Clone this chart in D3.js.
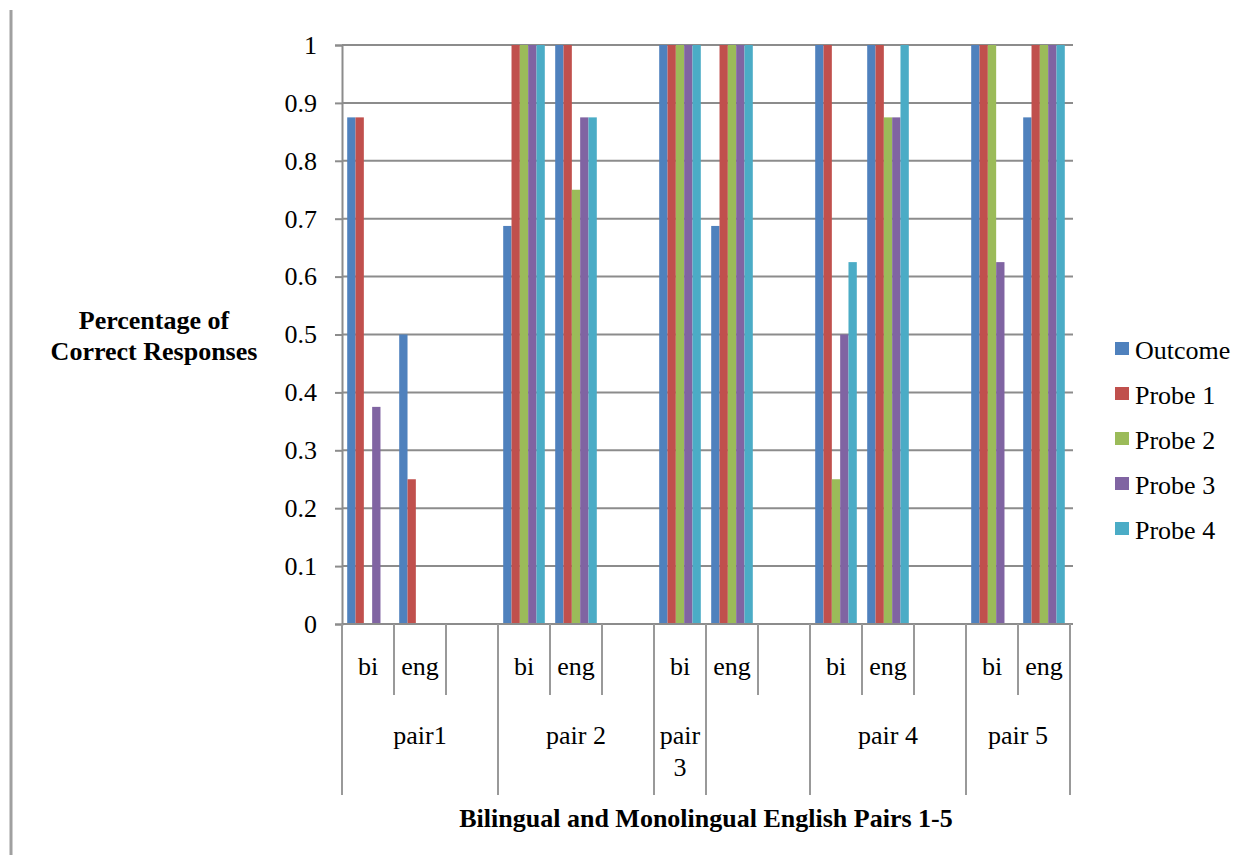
<!DOCTYPE html>
<html>
<head>
<meta charset="utf-8">
<script src="https://cdn.jsdelivr.net/npm/d3@7"></script>
<style>
  body { margin: 0; background: #fff; }
  text { font-family: "Liberation Serif", "Times New Roman", serif; fill: #000; }
</style>
</head>
<body>
<svg id="chart" width="1248" height="855"></svg>
<script>
// Category slots (inner level) and their pair groups (outer level)
const slotLabels = ["bi", "eng", "", "bi", "eng", "", "bi", "eng", "", "bi", "eng", "", "bi", "eng"];
const groupLabels = ["pair1", "pair 2", "pair 3", "", "pair 4", "pair 5"];
const groupSpans = [3, 3, 1, 2, 3, 2];

// Series
const seriesNames = ["Outcome", "Probe 1", "Probe 2", "Probe 3", "Probe 4"];
const seriesColors = ["#4F81BD", "#C0504D", "#9BBB59", "#8064A2", "#4BACC6"];
const outcome = [0.875, 0.5, null, 0.6875, 1, null, 1, 0.6875, null, 1, 1, null, 1, 0.875];
const probe1  = [0.875, 0.25, null, 1, 1, null, 1, 1, null, 1, 1, null, 1, 1];
const probe2  = [0, 0, null, 1, 0.75, null, 1, 1, null, 0.25, 0.875, null, 1, 1];
const probe3  = [0.375, 0, null, 1, 0.875, null, 1, 1, null, 0.5, 0.875, null, 0.625, 1];
const probe4  = [0, 0, null, 1, 0.875, null, 1, 1, null, 0.625, 1, null, 0, 1];
const seriesValues = [outcome, probe1, probe2, probe3, probe4];

const yTicks = [0, 0.1, 0.2, 0.3, 0.4, 0.5, 0.6, 0.7, 0.8, 0.9, 1];
const yTitle = ["Percentage of", "Correct Responses"];
const xTitle = "Bilingual and Monolingual English Pairs 1-5";

const FONT = 26;
const svg = d3.select("#chart");
const plot = { left: 342, right: 1070, top: 45, bottom: 624 };

const slots = d3.range(slotLabels.length);
const x0 = d3.scaleBand().domain(slots).range([plot.left, plot.right]).paddingInner(0).paddingOuter(0);
const sw = x0.bandwidth();
const x1 = d3.scaleBand().domain(d3.range(seriesNames.length))
  .range([sw * 0.1, sw * 0.9]).paddingInner(0).paddingOuter(0);
const y = d3.scaleLinear().domain([0, 1]).range([plot.bottom, plot.top]);

const gray = "#8c8c8c";

// frame line at the left edge of the page
svg.append("line").attr("x1", 11).attr("x2", 11).attr("y1", 10).attr("y2", 855)
  .attr("stroke", "#a0a0a0").attr("stroke-width", 3);

// horizontal gridlines
svg.append("g").selectAll("line").data(yTicks).join("line")
  .attr("x1", plot.left).attr("x2", plot.right + 3)
  .attr("y1", d => y(d)).attr("y2", d => y(d))
  .attr("stroke", gray).attr("stroke-width", 2);

// y axis with outward ticks
const yAxis = d3.axisLeft(y).tickValues(yTicks).tickSize(7).tickPadding(18)
  .tickFormat(d => d3.format("")(+d.toFixed(1)));
const yg = svg.append("g").attr("transform", `translate(${plot.left},0)`).call(yAxis);
yg.select(".domain").attr("stroke", gray).attr("stroke-width", 2);
yg.selectAll(".tick line").attr("stroke", gray).attr("stroke-width", 2);
yg.selectAll(".tick text").attr("font-size", FONT)
  .attr("font-family", "Liberation Serif, serif").attr("fill", "#000");

// bars
const slotG = svg.append("g").selectAll("g").data(slots).join("g")
  .attr("transform", d => `translate(${x0(d)},0)`);
slotG.selectAll("rect")
  .data(s => seriesValues.map((vals, k) => ({ k, v: vals[s] })).filter(d => d.v !== null && d.v > 0))
  .join("rect")
  .attr("x", d => x1(d.k))
  .attr("width", x1.bandwidth())
  .attr("y", d => y(d.v))
  .attr("height", d => y(0) - y(d.v))
  .attr("fill", d => seriesColors[d.k]);

// x axis line
svg.append("line").attr("x1", plot.left).attr("x2", plot.right)
  .attr("y1", plot.bottom).attr("y2", plot.bottom)
  .attr("stroke", gray).attr("stroke-width", 2);

// group boundaries
const groupStarts = [];
let acc = 0;
groupSpans.forEach(s => { groupStarts.push(acc); acc += s; });
const longBounds = new Set([...groupStarts, slots.length]);

// separators between categories
const bounds = d3.range(slots.length + 1);
svg.append("g").selectAll("line").data(bounds).join("line")
  .attr("x1", i => i < slots.length ? x0(i) : plot.right)
  .attr("x2", i => i < slots.length ? x0(i) : plot.right)
  .attr("y1", plot.bottom)
  .attr("y2", i => longBounds.has(i) ? 795 : 695)
  .attr("stroke", "#999").attr("stroke-width", 2);

// inner category labels
svg.append("g").selectAll("text").data(slots).join("text")
  .attr("x", i => x0(i) + sw / 2).attr("y", 675)
  .attr("text-anchor", "middle").attr("font-size", FONT)
  .text(i => slotLabels[i]);

// outer group labels, wrapped when wider than their span
const gText = svg.append("g").selectAll("text").data(groupLabels).join("text")
  .attr("text-anchor", "middle").attr("font-size", FONT)
  .attr("x", (d, i) => x0(groupStarts[i]) + groupSpans[i] * sw / 2)
  .attr("y", 744);
gText.each(function (d, i) {
  const t = d3.select(this);
  const cx = x0(groupStarts[i]) + groupSpans[i] * sw / 2;
  t.text(d);
  if (this.getComputedTextLength() > groupSpans[i] * sw - 4) {
    t.text(null);
    d.split(" ").forEach((w, j) => {
      t.append("tspan").attr("x", cx).attr("dy", j === 0 ? 0 : 32).text(w);
    });
  }
});

// axis titles
svg.append("text").attr("text-anchor", "middle").attr("font-size", FONT)
  .attr("font-weight", "bold")
  .attr("x", (plot.left + plot.right) / 2).attr("y", 827).text(xTitle);

svg.append("text").attr("text-anchor", "middle").attr("font-size", FONT)
  .attr("font-weight", "bold").attr("y", 329)
  .selectAll("tspan").data(yTitle).join("tspan")
  .attr("x", 154).attr("dy", (d, i) => i === 0 ? 0 : 31).text(d => d);

// legend
const leg = svg.append("g").selectAll("g").data(seriesNames).join("g")
  .attr("transform", (d, i) => `translate(1115,${349 + i * 45})`);
leg.append("rect").attr("x", 0).attr("y", -7).attr("width", 14).attr("height", 13)
  .attr("fill", (d, i) => seriesColors[i]);
leg.append("text").attr("x", 20).attr("y", 10).attr("font-size", FONT).text(d => d);
</script>
</body>
</html>
